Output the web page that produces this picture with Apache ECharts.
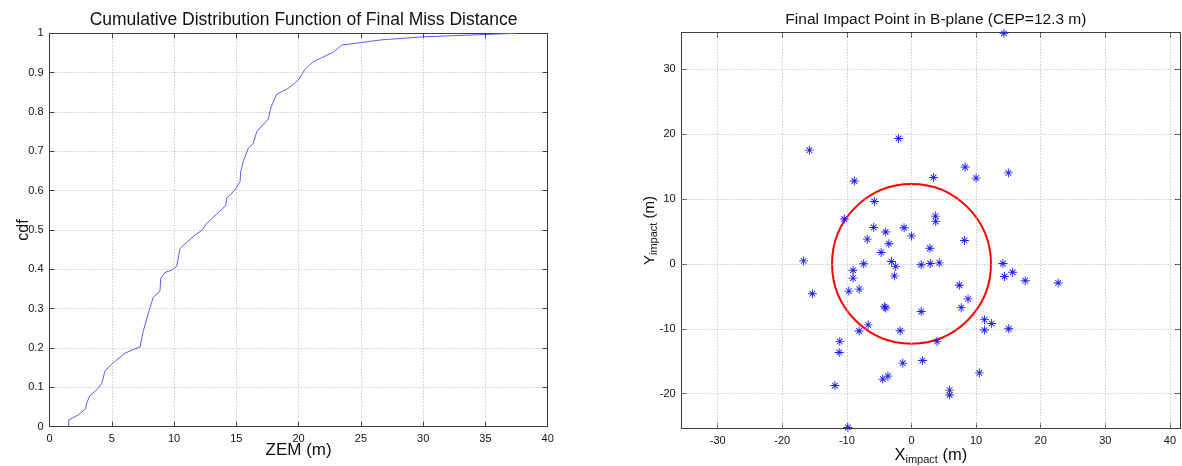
<!DOCTYPE html>
<html>
<head>
<meta charset="utf-8">
<script src="https://cdn.jsdelivr.net/npm/echarts@6/dist/echarts.min.js"></script>
<style>
html,body{margin:0;padding:0;background:#fff;}
#chart{width:1182px;height:466px;}
</style>
</head>
<body>
<div id="chart"></div>
<script>
// ---- Data ----
const cdfZem = [1.54,1.54,2.31,2.9,2.98,3.25,3.84,4.19,4.46,4.99,6.06,7.27,7.53,8.07,8.33,8.87,8.93,9.27,9.81,10.21,10.48,11.0,11.68,12.27,12.62,14.15,14.23,14.89,15.3,15.35,15.56,15.96,16.36,16.64,17.57,17.79,18.24,19.17,20.0,20.51,21.18,22.79,23.46,24.93,26.54,30.0,34.97,37.5];
const cdfP   = [0,0.017,0.03,0.045,0.06,0.079,0.095,0.11,0.142,0.159,0.187,0.203,0.243,0.303,0.329,0.345,0.377,0.392,0.398,0.407,0.453,0.468,0.487,0.5,0.517,0.562,0.581,0.602,0.623,0.648,0.674,0.708,0.72,0.75,0.782,0.813,0.845,0.86,0.882,0.908,0.928,0.952,0.97,0.976,0.983,0.991,0.997,1.0];

const impactX = [14.3,-15.8,-8.85,-2.0,8.3,3.4,10.0,15.0,-5.75,-10.4,-5.85,-4.0,-1.15,0.0,-6.85,-3.5,-4.7,-16.7,-7.4,-3.1,-2.45,-9.05,-9.05,-15.35,-9.7,-8.1,-2.65,-4.2,-4.0,-6.7,-8.1,-1.75,-11.1,-11.2,-1.35,-3.65,-4.45,-11.85,-9.85,3.7,3.75,8.2,2.85,1.5,2.9,4.3,14.15,14.4,15.65,17.6,22.7,7.4,8.75,7.7,1.5,11.3,12.4,11.3,15.05,3.95,1.7,10.5,5.9,5.9];
const impactY = [35.5,17.5,12.75,19.3,14.9,13.3,13.2,14.0,9.6,6.9,5.6,4.9,5.55,4.3,3.8,3.1,1.75,0.45,0.0,0.35,-0.4,-1.0,-2.2,-4.6,-4.2,-3.9,-1.85,-6.6,-6.8,-9.4,-10.35,-10.3,-11.95,-13.65,-15.3,-17.3,-17.75,-18.75,-25.2,7.35,6.5,3.6,2.4,-0.15,0.05,0.15,0.05,-1.95,-1.3,-2.6,-2.95,-3.3,-5.4,-6.75,-7.35,-8.6,-9.2,-10.2,-10.0,-11.95,-14.9,-16.8,-19.45,-20.2];

const cepRadius = 12.3;

const rightXTicks = [-30,-20,-10,0,10,20,30,40];
const rightYTicks = [-20,-10,0,10,20,30];
const rightXRange = [-35.57, 41.56];
const rightYRange = [-25.33, 35.59];

// ---- Styles ----
const FONT = 'Liberation Sans, Arial, sans-serif';
const axisColor = '#3c3c3c';
const gridLineStyle = {color:'#b4b4b4', type:[1,2], width:1};

const asterisk = 'path://M0,4.5H10V5.5H0Z M4.5,0H5.5V10H4.5Z M1.5,2.2L2.2,1.5L8.5,7.8L7.8,8.5Z M7.8,1.5L8.5,2.2L2.2,8.5L1.5,7.8Z';

function baseAxis(extra){
  return Object.assign({
    type:'value',
    axisLine:{show:true,onZero:false,lineStyle:{color:axisColor,width:1}},
    axisTick:{show:true,inside:true,length:5,lineStyle:{color:axisColor}},
    axisLabel:{color:'#111',fontSize:11,fontFamily:FONT,margin:7},
    splitLine:{show:false},
    nameMoveOverlap:false,
    nameTextStyle:{color:'#111',fontFamily:FONT,fontSize:14}
  }, extra);
}

const chart = echarts.init(document.getElementById('chart'), null, {renderer:'canvas'});

const option = {
  animation:false,
  backgroundColor:'#fff',
  title:[
    {text:'Cumulative Distribution Function of Final Miss Distance', left:298.6, top:6, textAlign:'center',
     textStyle:{fontFamily:FONT,fontSize:17.5,fontWeight:'normal',color:'#111'}},
    {text:'Final Impact Point in B-plane (CEP=12.3 m)', left:930.9, top:7, textAlign:'center',
     textStyle:{fontFamily:FONT,fontSize:15.5,fontWeight:'normal',color:'#111'}}
  ],
  grid:[
    {left:49.5, top:33.3, width:498.2, height:393.4, containLabel:false, outerBoundsMode:'none'},
    {left:681.7, top:32.7, width:498.3, height:395.6, containLabel:false, outerBoundsMode:'none'}
  ],
  xAxis:[
    baseAxis({gridIndex:0, position:'bottom', min:0, max:40, interval:5,
      name:'ZEM (m)', nameLocation:'middle', nameGap:15,
      nameTextStyle:{color:'#111',fontFamily:FONT,fontSize:17},
      splitLine:{show:true,lineStyle:gridLineStyle}}),
    baseAxis({gridIndex:0, position:'top', min:0, max:40, interval:5, axisLabel:{show:false}}),
    baseAxis({gridIndex:1, position:'bottom', min:rightXRange[0], max:rightXRange[1],
      axisTick:{show:true,inside:true,length:5,lineStyle:{color:axisColor},customValues:rightXTicks},
      axisLabel:{color:'#111',fontSize:11,fontFamily:FONT,margin:7,customValues:rightXTicks},
      name:'{b|X}{s|impact}{b| (m)}', nameLocation:'middle', nameGap:17,
      nameTextStyle:{rich:{b:{fontSize:16.5,fontFamily:FONT,color:'#111'},s:{fontSize:11,fontFamily:FONT,color:'#111',padding:[9,0,0,0]}}}}),
    baseAxis({gridIndex:1, position:'top', min:rightXRange[0], max:rightXRange[1],
      axisTick:{show:true,inside:true,length:5,lineStyle:{color:axisColor},customValues:rightXTicks},
      axisLabel:{show:false}})
  ],
  yAxis:[
    baseAxis({gridIndex:0, position:'left', min:0, max:1, interval:0.1,
      name:'cdf', nameLocation:'middle', nameGap:18, nameRotate:90,
      nameTextStyle:{color:'#111',fontFamily:FONT,fontSize:16},
      axisLabel:{color:'#111',fontSize:11,fontFamily:FONT,margin:6,formatter:function(v){return String(+v.toFixed(1));}},
      splitLine:{show:true,lineStyle:gridLineStyle}}),
    baseAxis({gridIndex:0, position:'right', min:0, max:1, interval:0.1, axisLabel:{show:false}}),
    baseAxis({gridIndex:1, position:'left', min:rightYRange[0], max:rightYRange[1],
      axisTick:{show:true,inside:true,length:5,lineStyle:{color:axisColor},customValues:rightYTicks},
      axisLabel:{color:'#111',fontSize:11,fontFamily:FONT,margin:6,customValues:rightYTicks},
      name:'{b|Y}{s|impact}{b| (m)}', nameLocation:'middle', nameGap:22, nameRotate:90,
      nameTextStyle:{rich:{b:{fontSize:15,fontFamily:FONT,color:'#111'},s:{fontSize:11,fontFamily:FONT,color:'#111',padding:[9,0,0,0]}}}}),
    baseAxis({gridIndex:1, position:'right', min:rightYRange[0], max:rightYRange[1],
      axisTick:{show:true,inside:true,length:5,lineStyle:{color:axisColor},customValues:rightYTicks},
      axisLabel:{show:false}})
  ],
  series:[
    {
      type:'line', xAxisIndex:0, yAxisIndex:0,
      data: cdfZem.map((z,i)=>[z,cdfP[i]]),
      showSymbol:false, symbol:'none',
      lineStyle:{color:'#5a5aff',width:1},
      silent:true, z:5
    },
    {
      type:'scatter', xAxisIndex:2, yAxisIndex:2,
      data: [],
      silent:true,
      markLine:{
        silent:true, symbol:'none', animation:false,
        label:{show:false},
        lineStyle:gridLineStyle,
        data: rightXTicks.map(v=>({xAxis:v})).concat(rightYTicks.map(v=>({yAxis:v})))
      },
      z:1
    },
    {
      type:'custom', xAxisIndex:2, yAxisIndex:2,
      data:[[0,0,cepRadius]],
      silent:true,
      renderItem:function(params, api){
        const c = api.coord([api.value(0), api.value(1)]);
        const sx = api.size([api.value(2), 0])[0];
        const sy = api.size([0, api.value(2)])[1];
        return {type:'ellipse', shape:{cx:c[0], cy:c[1], rx:sx, ry:sy},
                style:{fill:null, stroke:'#ff0000', lineWidth:2}};
      },
      z:4
    },
    {
      type:'scatter', xAxisIndex:2, yAxisIndex:2,
      data: impactX.map((x,i)=>[x,impactY[i]]),
      symbol:asterisk, symbolSize:9,
      itemStyle:{color:'#1f1fff', opacity:1},
      silent:true, z:6
    }
  ]
};
chart.setOption(option);
</script>
</body>
</html>
